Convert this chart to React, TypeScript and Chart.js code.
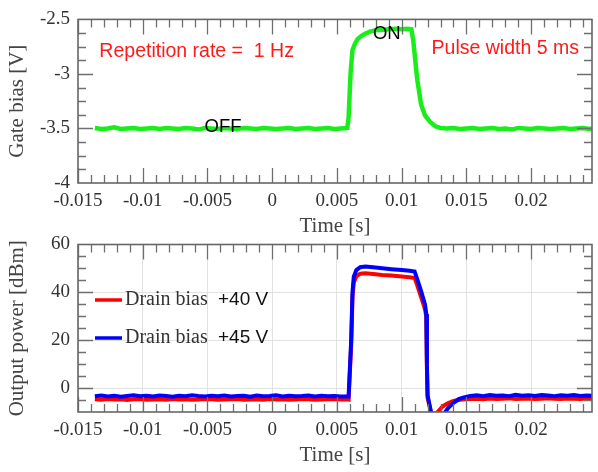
import React, { useEffect, useRef } from "react";
import { Chart, registerables } from "chart.js";
Chart.register(...registerables);

// ---------- axes ----------
const X_MIN = -0.015;
const X_MAX = 0.0247;
const X_TICKS = [-0.015, -0.01, -0.005, 0, 0.005, 0.01, 0.015, 0.02];
const X_TICK_LABELS = ["-0.015", "-0.01", "-0.005", "0", "0.005", "0.01", "0.015", "0.02"];
const X_MINOR_STEP = 0.001;

const GATE_Y_MIN = -4;
const GATE_Y_MAX = -2.5;
const GATE_Y_TICKS = [-4, -3.5, -3, -2.5];
const GATE_Y_LABELS = ["-4", "-3.5", "-3", "-2.5"];
const GATE_Y_MINOR_STEP = 0.125;

const POWER_Y_MIN = -10;
const POWER_Y_MAX = 60;
const POWER_Y_TICKS = [0, 20, 40, 60];
const POWER_Y_LABELS = ["0", "20", "40", "60"];
const POWER_Y_MINOR_STEP = 5;

// ---------- gate bias trace ----------
const GATE_T = [
  -0.0137, -0.0132, -0.0127, -0.0122, -0.0117, -0.0112, -0.0107, -0.0102, -0.0097, -0.0092,
  -0.0087, -0.0082, -0.0077, -0.0072, -0.0067, -0.0062, -0.0057, -0.0052, -0.0047, -0.0042,
  -0.0037, -0.0032, -0.0027, -0.0022, -0.0017, -0.0012, -0.0007, -0.0002, 0.0003, 0.0008,
  0.0013, 0.0018, 0.0023, 0.0028, 0.0033, 0.0038, 0.0043, 0.0048, 0.0053, 0.0058,
  0.0059, 0.00605, 0.0062, 0.0064, 0.0066, 0.0069, 0.0072, 0.0076, 0.008, 0.0085, 0.009,
  0.0095, 0.01, 0.0104, 0.01075, 0.0109, 0.0112, 0.0115, 0.0118, 0.0122, 0.0126, 0.013,
  0.0135, 0.014, 0.0145, 0.015, 0.0155, 0.016, 0.0165, 0.017, 0.0175, 0.018, 0.0185, 0.019,
  0.0195, 0.02, 0.0205, 0.021, 0.0215, 0.022, 0.0225, 0.023, 0.0235, 0.024, 0.0245, 0.0247,
];
const GATE_V = [
  -3.495, -3.505, -3.5, -3.49, -3.505, -3.5, -3.495, -3.505, -3.5, -3.495,
  -3.505, -3.495, -3.5, -3.505, -3.495, -3.5, -3.51, -3.495, -3.5, -3.505,
  -3.495, -3.5, -3.505, -3.495, -3.5, -3.505, -3.495, -3.5, -3.505, -3.5,
  -3.495, -3.505, -3.5, -3.495, -3.505, -3.5, -3.495, -3.505, -3.5, -3.495,
  -3.4, -3.0, -2.78, -2.72, -2.68, -2.65, -2.63, -2.61, -2.6, -2.595, -2.59,
  -2.585, -2.59, -2.585, -2.59, -2.7, -3.05, -3.28, -3.38, -3.44, -3.48, -3.495,
  -3.5, -3.495, -3.505, -3.5, -3.495, -3.505, -3.5, -3.495, -3.505, -3.5, -3.51, -3.495,
  -3.5, -3.505, -3.495, -3.5, -3.505, -3.5, -3.495, -3.505, -3.5, -3.495, -3.505, -3.5,
];

// ---------- output power traces ----------
const POWER_T = [
  -0.0137, -0.0132, -0.0127, -0.0122, -0.0117, -0.0112, -0.0107, -0.0102, -0.0097, -0.0092,
  -0.0087, -0.0082, -0.0077, -0.0072, -0.0067, -0.0062, -0.0057, -0.0052, -0.0047, -0.0042,
  -0.0037, -0.0032, -0.0027, -0.0022, -0.0017, -0.0012, -0.0007, -0.0002, 0.0003, 0.0008,
  0.0013, 0.0018, 0.0023, 0.0028, 0.0033, 0.0038, 0.0043, 0.0048, 0.0053, 0.0058,
  0.0059, 0.0061, 0.0062, 0.0063, 0.0065, 0.0068, 0.0072, 0.0078, 0.0085, 0.0092,
  0.01, 0.0106, 0.011, 0.0112, 0.0115, 0.0118, 0.0119, 0.01195, 0.012, 0.0123,
  0.0127, 0.0131, 0.0133, 0.0136, 0.014, 0.0144, 0.0148,
  0.0153, 0.0158, 0.0163, 0.0168, 0.0173, 0.0178, 0.0183, 0.0188, 0.0193, 0.0198,
  0.0203, 0.0208, 0.0213, 0.0218, 0.0223, 0.0228, 0.0233, 0.0238, 0.0243, 0.0247,
];
const POWER_40V = [
  -4.7, -4.9, -4.6, -4.8, -4.7, -5.0, -4.7, -4.6, -4.9, -4.8,
  -4.7, -4.9, -4.6, -4.8, -4.7, -4.9, -4.8, -4.6, -4.7, -4.9,
  -4.8, -4.7, -4.6, -4.9, -4.8, -4.7, -4.9, -4.6, -4.8, -4.7,
  -4.9, -4.8, -4.6, -4.7, -4.9, -4.8, -4.7, -4.6, -4.8, -4.7,
  -4.8, 18, 38, 44, 46.8, 47.8, 48.0, 47.7, 47.3, 47.0,
  46.6, 46.3, 46.0, 43, 38, 33, 30, 8, -4, -11,
  -10.5, -8, -7.2, -6.3, -5.4, -5.0, -4.7,
  -4.6, -4.5, -4.7, -4.4, -4.6, -4.5, -4.3, -4.6, -4.5, -4.4,
  -4.6, -4.5, -4.3, -4.5, -4.6, -4.4, -4.5, -4.6, -4.4, -4.5,
];
const POWER_45V = [
  -3.4, -3.1, -3.5, -3.2, -3.6, -3.3, -3.0, -3.4, -3.2, -3.5,
  -3.1, -3.3, -3.6, -3.2, -3.4, -3.0, -3.3, -3.5, -3.2, -3.4,
  -3.1, -3.5, -3.3, -3.2, -3.6, -3.1, -3.4, -3.3, -3.0, -3.5,
  -3.2, -3.4, -3.3, -3.1, -3.5, -3.2, -3.4, -3.3, -3.5, -3.4,
  -3.5, 20, 40, 46.5, 49.3, 50.5, 50.8, 50.5, 50.1, 49.7,
  49.3, 49.0, 48.7, 45.5, 40.5, 35, 31, 10, -3, -11,
  -11, -11, -10.5, -8.3, -6.2, -4.6, -3.9,
  -3.3, -3.0, -3.4, -2.9, -3.2, -3.1, -3.4, -2.8, -3.2, -3.0,
  -3.3, -2.9, -3.1, -3.4, -3.0, -3.2, -2.9, -3.3, -3.1, -3.2,
];

const SERIES_NAMES = ["Drain bias", "Drain bias"];
const SERIES_VOLTAGES = ["+40 V", "+45 V"];
const SERIES_COLORS = ["#ff0000", "#0000ff"];

const SERIF = '"Liberation Serif", "Times New Roman", serif';
const SANS = '"Liberation Sans", Arial, sans-serif';

const W = 598;
const H = 472;

function framePlugin(xMinor: number, yMinor: number, xMajor: number[], yMajor: number[]) {
  return {
    id: "frameTicks",
    afterDatasetsDraw(chart: any) {
      const { ctx, chartArea: a, scales } = chart;
      const xs = scales.x;
      const ys = scales.y;
      ctx.save();
      ctx.strokeStyle = "#6f6f6f";
      ctx.lineWidth = 1.3;
      ctx.beginPath();
      const MAJ = 15;
      const MIN = 8;
      const nx = Math.round((xs.max - xs.min) / xMinor);
      for (let i = 0; i <= nx; i++) {
        const v = xs.min + i * xMinor;
        if (v > xs.max) break;
        const isMaj = xMajor.some((m) => Math.abs(m - v) < xMinor / 10);
        const p = Math.round(xs.getPixelForValue(v)) + 0.5;
        const L = isMaj ? MAJ : MIN;
        ctx.moveTo(p, a.bottom);
        ctx.lineTo(p, a.bottom - L);
        ctx.moveTo(p, a.top);
        ctx.lineTo(p, a.top + L);
      }
      const ny = Math.round((ys.max - ys.min) / yMinor);
      for (let i = 1; i < ny; i++) {
        const v = ys.min + i * yMinor;
        const isMaj = yMajor.some((m) => Math.abs(m - v) < yMinor / 10);
        const p = Math.round(ys.getPixelForValue(v)) + 0.5;
        const L = isMaj ? MAJ : MIN;
        ctx.moveTo(a.left, p);
        ctx.lineTo(a.left + L, p);
        ctx.moveTo(a.right, p);
        ctx.lineTo(a.right - L, p);
      }
      ctx.stroke();
      ctx.lineWidth = 1.6;
      ctx.strokeStyle = "#666";
      ctx.strokeRect(a.left, a.top, a.right - a.left, a.bottom - a.top);
      ctx.restore();
    },
  };
}

const gateNotes = [
  { text: "Repetition rate =  1 Hz", x: -0.01335, y: -2.795, color: "#ff1a1a", font: `19.5px ${SANS}`, align: "left" },
  { text: "Pulse width 5 ms", x: 0.01231, y: -2.77, color: "#ff1a1a", font: `19.5px ${SANS}`, align: "left" },
  { text: "ON", x: 0.00885, y: -2.634, color: "#000", font: `18.5px ${SANS}`, align: "center" },
  { text: "OFF", x: -0.0038, y: -3.49, color: "#000", font: `18.5px ${SANS}`, align: "center" },
];

const notesPlugin = {
  id: "notes",
  afterDatasetsDraw(chart: any) {
    const { ctx, scales } = chart;
    ctx.save();
    ctx.textBaseline = "middle";
    for (const n of gateNotes) {
      ctx.font = n.font;
      ctx.fillStyle = n.color;
      ctx.textAlign = n.align;
      ctx.fillText(n.text, scales.x.getPixelForValue(n.x), scales.y.getPixelForValue(n.y));
    }
    ctx.restore();
  },
};

const legendPlugin = {
  id: "customLegend",
  afterDatasetsDraw(chart: any) {
    const { ctx, chartArea: a } = chart;
    ctx.save();
    ctx.textBaseline = "middle";
    SERIES_NAMES.forEach((name, i) => {
      const y = a.top + 55.5 + i * 38;
      ctx.strokeStyle = SERIES_COLORS[i];
      ctx.lineWidth = 3.5;
      ctx.beginPath();
      ctx.moveTo(a.left + 17, y);
      ctx.lineTo(a.left + 44, y);
      ctx.stroke();
      ctx.fillStyle = "#333";
      ctx.font = `20px ${SERIF}`;
      ctx.textAlign = "left";
      ctx.fillText(name, a.left + 47, y);
      ctx.fillStyle = "#111";
      ctx.font = `19px ${SANS}`;
      ctx.fillText(SERIES_VOLTAGES[i], a.left + 140, y);
    });
    ctx.restore();
  },
};

function xScale(grid: boolean) {
  return {
    type: "linear",
    min: X_MIN,
    max: X_MAX,
    afterBuildTicks: (s: any) => {
      s.ticks = X_TICKS.map((v) => ({ value: v }));
    },
    afterFit: (s: any) => {
      s.height = 60;
    },
    ticks: {
      autoSkip: false,
      maxRotation: 0,
      padding: 7,
      color: "#333",
      font: { family: SERIF, size: 19 },
      callback: (_v: any, i: number) => X_TICK_LABELS[i],
    },
    grid: { display: grid, drawTicks: false, color: "#e2e2e2", lineWidth: 1 },
    border: { display: false },
    title: {
      display: true,
      text: "Time [s]",
      color: "#444",
      font: { family: SERIF, size: 21 },
      padding: { top: 0, bottom: 4 },
    },
  };
}

function yScale(min: number, max: number, ticks: number[], labels: string[], title: string, grid: boolean) {
  return {
    type: "linear",
    min,
    max,
    afterBuildTicks: (s: any) => {
      s.ticks = ticks.map((v) => ({ value: v }));
    },
    afterFit: (s: any) => {
      s.width = 78;
    },
    ticks: {
      autoSkip: false,
      padding: 8,
      color: "#333",
      font: { family: SERIF, size: 19 },
      callback: (_v: any, i: number) => labels[i],
    },
    grid: { display: grid, drawTicks: false, color: "#e2e2e2", lineWidth: 1 },
    border: { display: false },
    title: {
      display: true,
      text: title,
      color: "#444",
      font: { family: SERIF, size: 21 },
      padding: { top: 5, bottom: 0 },
    },
  };
}

export default function App() {
  const topRef = useRef<HTMLCanvasElement | null>(null);
  const botRef = useRef<HTMLCanvasElement | null>(null);

  useEffect(() => {
    const top = new Chart(topRef.current as HTMLCanvasElement, {
      type: "line",
      data: {
        datasets: [
          {
            label: "Gate bias",
            data: GATE_T.map((t, i) => ({ x: t, y: GATE_V[i] })),
            borderColor: "#1aee1a",
            borderWidth: 4.5,
            pointRadius: 0,
            tension: 0,
            clip: 0,
          },
        ],
      },
      options: {
        responsive: false,
        animation: false,
        events: [],
        layout: { padding: { left: 0, right: 6, top: 15, bottom: H - 183 - 60 } },
        plugins: { legend: { display: false }, tooltip: { enabled: false } },
        scales: {
          x: xScale(false),
          y: yScale(GATE_Y_MIN, GATE_Y_MAX, GATE_Y_TICKS, GATE_Y_LABELS, "Gate bias [V]", false),
        },
      } as any,
      plugins: [framePlugin(X_MINOR_STEP, GATE_Y_MINOR_STEP, X_TICKS, GATE_Y_TICKS), notesPlugin],
    });

    const bot = new Chart(botRef.current as HTMLCanvasElement, {
      type: "line",
      data: {
        datasets: [
          {
            label: SERIES_NAMES[1] + " " + SERIES_VOLTAGES[1],
            data: POWER_T.map((t, i) => ({ x: t, y: POWER_45V[i] })),
            borderColor: SERIES_COLORS[1],
            borderWidth: 4,
            pointRadius: 0,
            tension: 0,
            clip: 0,
            order: 0,
          },
          {
            label: SERIES_NAMES[0] + " " + SERIES_VOLTAGES[0],
            data: POWER_T.map((t, i) => ({ x: t, y: POWER_40V[i] })),
            borderColor: SERIES_COLORS[0],
            borderWidth: 4,
            pointRadius: 0,
            tension: 0,
            clip: 0,
            order: 1,
          },
        ],
      },
      options: {
        responsive: false,
        animation: false,
        events: [],
        layout: { padding: { left: 0, right: 6, top: 244.5, bottom: 0 } },
        plugins: { legend: { display: false }, tooltip: { enabled: false } },
        scales: {
          x: xScale(true),
          y: yScale(POWER_Y_MIN, POWER_Y_MAX, POWER_Y_TICKS, POWER_Y_LABELS, "Output power [dBm]", true),
        },
      } as any,
      plugins: [framePlugin(X_MINOR_STEP, POWER_Y_MINOR_STEP, X_TICKS, POWER_Y_TICKS), legendPlugin],
    });

    return () => {
      top.destroy();
      bot.destroy();
    };
  }, []);

  const cs: React.CSSProperties = { position: "absolute", left: 0, top: 0, width: W, height: H };
  return (
    <div style={{ position: "fixed", left: 0, top: 0, width: W, height: H, background: "#fff" }}>
      <canvas ref={topRef} width={W} height={H} style={cs} />
      <canvas ref={botRef} width={W} height={H} style={cs} />
    </div>
  );
}
